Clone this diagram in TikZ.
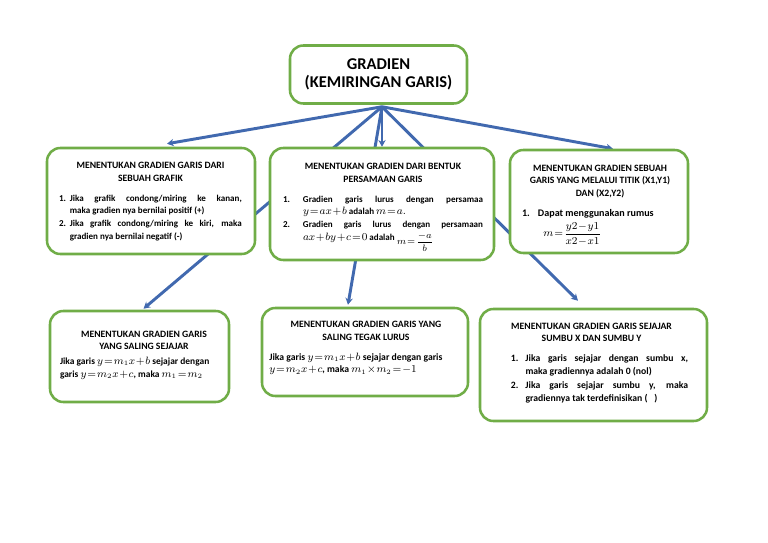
\documentclass[tikz,border=0pt]{standalone}
\usepackage{amsmath}
\usepackage{fontspec}
\setmainfont{Carlito}
\usetikzlibrary{arrows.meta,backgrounds,calc}
\definecolor{hijau}{RGB}{112,173,71}
\definecolor{biru}{RGB}{65,105,175}
\newcommand{\judul}[2][5.5bp]{{\centering\fontsize{7.3}{9.6}\selectfont #2\par}\vspace{#1}}
\newcommand{\butir}[3]{\par\hangindent=#1\hangafter=1\noindent\makebox[#1][l]{#2}#3\par}
\newcommand{\rumus}[2][7.8]{{\fontsize{#1}{9.4}\selectfont\medmuskip=1mu\thickmuskip=1.5mu$#2$}}
\begin{document}
\begin{tikzpicture}[
		x=0.75bp,y=-0.75bp,
		kotak/.style={draw=hijau,line width=1.9bp,rounded corners=10bp,fill=white,inner sep=0pt},
		isi/.style={inner sep=0pt,anchor=north,align=justify,font=\fontsize{#1}{9.5}\selectfont\bfseries},
		isi/.default=6.8,
		panah/.style={draw=biru,line width=2.2bp,-{Stealth[length=5bp,width=5.5bp]}},
	]
	\useasboundingbox (0,0) rectangle (768,543);

	\node[kotak,minimum width=132.75bp,minimum height=43.5bp,align=center,
		font=\fontsize{12.4}{13.5}\selectfont\bfseries] (gradien) at (378.5,74.5) {GRADIEN\\(KEMIRINGAN GARIS)};
	\coordinate (pusat) at ($(gradien.south)+(3.5,2)$);

	\node[kotak,minimum width=156bp,minimum height=79.5bp] (grafik) at (151,201) {};
	\node[kotak,minimum width=168bp,minimum height=84bp] (bentuk) at (382,204) {};
	\node[kotak,minimum width=133.5bp,minimum height=77.25bp] (titik) at (599,201.5) {};
	\node[kotak,minimum width=134.25bp,minimum height=68.25bp] (sejajar) at (139.5,356.5) {};
	\node[kotak,minimum width=154.5bp,minimum height=66bp] (tegak) at (365,352) {};
	\node[kotak,minimum width=170.25bp,minimum height=84bp] (sumbu) at (593.5,365) {};

	\node[isi,text width=137bp] (grafikteks) at (150.5,162) {%
		\judul{MENENTUKAN GRADIEN GARIS DARI\\SEBUAH GRAFIK}%
		\butir{8bp}{1.}{Jika grafik condong/miring ke kanan,\linebreak maka gradien nya bernilai positif (+)}%
		\butir{8bp}{2.}{Jika grafik condong/miring ke kiri, maka\linebreak gradien nya bernilai negatif (-)}};

	\node[isi,text width=150bp] (bentukteks) at (383,163) {%
		\judul{MENENTUKAN GRADIEN DARI BENTUK\\PERSAMAAN GARIS}%
		\butir{15bp}{1.}{Gradien garis lurus dengan persamaa\linebreak \rumus{y=ax+b} adalah \rumus{m=a.}}%
		\butir{15bp}{2.}{Gradien garis lurus dengan persamaan\linebreak \rumus{ax+by+c=0} adalah \raisebox{-3.5bp}{\rumus[6.8]{m=\dfrac{-a}{b}}}}};

	\node[isi=7.6,text width=117bp] (titikteks) at (600,164.5) {%
		\judul{MENENTUKAN GRADIEN SEBUAH\\GARIS YANG MELALUI TITIK (X1,Y1)\\DAN (X2,Y2)}%
		\butir{12bp}{1.}{Dapat menggunakan rumus}\vspace{2bp}%
		\noindent\hspace*{16bp}\rumus[8.4]{m=\dfrac{y2-y1}{x2-x1}}};

	\node[isi=7.1,text width=126bp] (sejajarteks) at (144,330.5) {%
		\judul[1.5bp]{MENENTUKAN GRADIEN GARIS\\YANG SALING SEJAJAR}%
		\raggedright Jika garis \rumus{y=m_1x+b} sejajar dengan\\
		garis \rumus{y=m_2x+c}, maka \rumus{m_1=m_2}\par};

	\node[isi=7.3,text width=145bp] (tegakteks) at (366,321) {%
		\judul{MENENTUKAN GRADIEN GARIS YANG\\SALING TEGAK LURUS}%
		\raggedright Jika garis \rumus{y=m_1x+b} sejajar dengan garis\\
		\rumus{y=m_2x+c}, maka \rumus{m_1\times m_2=-1}\par};

	\node[isi=7.3,text width=145bp] (sumbuteks) at (591.5,322.5) {%
		\judul{MENENTUKAN GRADIEN GARIS SEJAJAR\\SUMBU X DAN SUMBU Y}%
		\leftskip=12bp
		\butir{11bp}{1.}{Jika garis sejajar dengan sumbu x,\linebreak maka gradiennya adalah 0 (nol)}\vspace{1bp}%
		\butir{11bp}{2.}{Jika garis sejajar sumbu y, maka\linebreak gradiennya tak terdefinisikan (\hspace{5bp})}};

	\begin{scope}[on background layer]
		\draw[panah] (pusat) -- ($(grafik.north)+(16,-3)$);
		\draw[panah] (pusat) -- (bentuk.north);
		\draw[panah] (pusat) -- ($(titik.north)+(14,0)$);
		\draw[panah] (pusat) -- ($(sejajar.north)+(4,-1)$);
		\draw[panah] (pusat) -- ($(tegak.north)+(-17,-2)$);
		\draw[panah] (pusat) -- ($(sumbu.north)+(-15.5,-7)$);
	\end{scope}

\end{tikzpicture}
\end{document}
